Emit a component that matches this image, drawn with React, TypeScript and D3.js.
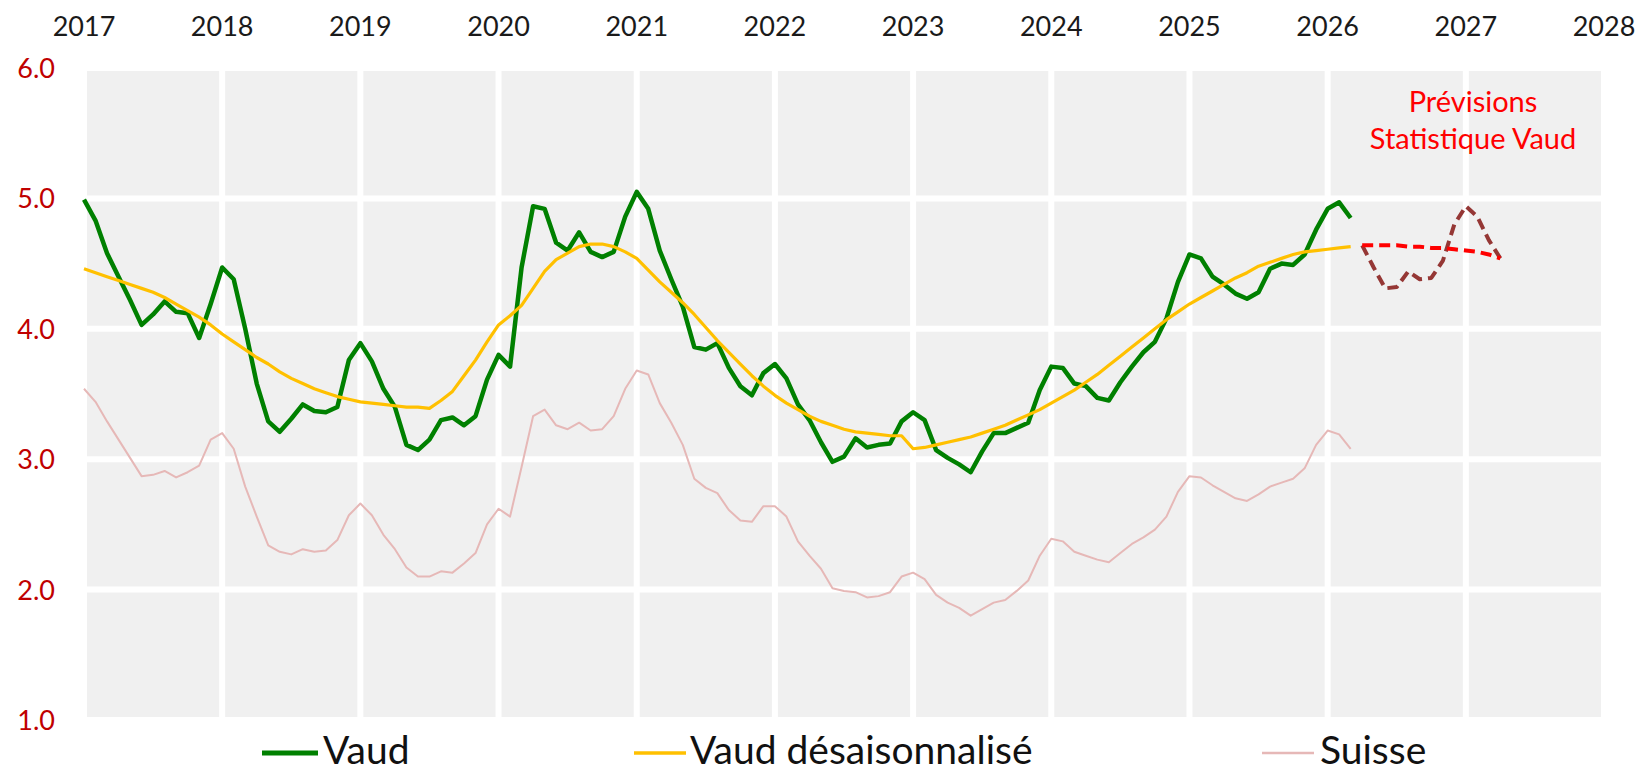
import React from "react";
import * as d3 from "d3";

// ---- Data (monthly, starting January 2017) ----
const years = [2017, 2018, 2019, 2020, 2021, 2022, 2023, 2024, 2025, 2026, 2027, 2028];
const yTicks = [1, 2, 3, 4, 5, 6];

const vaud = [
  4.99, 4.83, 4.58, 4.40, 4.22, 4.03, 4.11, 4.21, 4.13, 4.12, 3.93, 4.19,
  4.47, 4.38, 4.00, 3.58, 3.29, 3.21, 3.31, 3.42, 3.37, 3.36, 3.40, 3.76,
  3.89, 3.75, 3.54, 3.40, 3.11, 3.07, 3.15, 3.30, 3.32, 3.26, 3.33, 3.61,
  3.80, 3.71, 4.47, 4.94, 4.92, 4.66, 4.60, 4.74, 4.59, 4.55, 4.59, 4.86,
  5.05, 4.92, 4.60, 4.38, 4.17, 3.86, 3.84, 3.89, 3.70, 3.56, 3.49, 3.66,
  3.73, 3.62, 3.42, 3.30, 3.13, 2.98, 3.02, 3.16, 3.09, 3.11, 3.12, 3.29,
  3.36, 3.30, 3.07, 3.01, 2.96, 2.90, 3.06, 3.20, 3.20, 3.24, 3.28, 3.53,
  3.71, 3.70, 3.58, 3.56, 3.47, 3.45, 3.59, 3.71, 3.82, 3.90, 4.08, 4.36,
  4.57, 4.54, 4.40, 4.34, 4.27, 4.23, 4.28, 4.46, 4.50, 4.49, 4.57, 4.76,
  4.92, 4.97, 4.85,
];

const vaudSA = [
  4.46, 4.43, 4.40, 4.37, 4.34, 4.31, 4.28, 4.24, 4.19, 4.14, 4.09, 4.03,
  3.96, 3.90, 3.84, 3.78, 3.73, 3.67, 3.62, 3.58, 3.54, 3.51, 3.48, 3.46,
  3.44, 3.43, 3.42, 3.41, 3.40, 3.40, 3.39, 3.45, 3.52, 3.64, 3.76, 3.90,
  4.03, 4.10, 4.18, 4.31, 4.44, 4.53, 4.58, 4.63, 4.65, 4.65, 4.63, 4.59,
  4.54, 4.45, 4.36, 4.28, 4.20, 4.11, 4.01, 3.91, 3.82, 3.73, 3.64, 3.56,
  3.49, 3.43, 3.38, 3.33, 3.29, 3.26, 3.23, 3.21, 3.20, 3.19, 3.18, 3.18,
  3.08, 3.09, 3.11, 3.13, 3.15, 3.17, 3.20, 3.23, 3.26, 3.30, 3.34, 3.38,
  3.43, 3.48, 3.53, 3.59, 3.65, 3.72, 3.79, 3.86, 3.93, 4.00, 4.07, 4.13,
  4.19, 4.24, 4.29, 4.34, 4.39, 4.43, 4.48, 4.51, 4.54, 4.57, 4.59, 4.60,
  4.61, 4.62, 4.63,
];

const suisse = [
  3.54, 3.44, 3.29, 3.15, 3.01, 2.87, 2.88, 2.91, 2.86, 2.90, 2.95, 3.15,
  3.20, 3.08, 2.79, 2.56, 2.34, 2.29, 2.27, 2.31, 2.29, 2.30, 2.38, 2.57,
  2.66, 2.57, 2.42, 2.31, 2.17, 2.10, 2.10, 2.14, 2.13, 2.20, 2.28, 2.50,
  2.62, 2.56, 2.94, 3.33, 3.38, 3.26, 3.23, 3.28, 3.22, 3.23, 3.33, 3.54,
  3.68, 3.65, 3.43, 3.28, 3.11, 2.85, 2.78, 2.74, 2.61, 2.53, 2.52, 2.64,
  2.64, 2.56, 2.37, 2.26, 2.16, 2.01, 1.99, 1.98, 1.94, 1.95, 1.98, 2.10,
  2.13, 2.08, 1.96, 1.90, 1.86, 1.80, 1.85, 1.90, 1.92, 1.99, 2.07, 2.26,
  2.39, 2.37, 2.29, 2.26, 2.23, 2.21, 2.28, 2.35, 2.40, 2.46, 2.56, 2.75,
  2.87, 2.86, 2.80, 2.75, 2.70, 2.68, 2.73, 2.79, 2.82, 2.85, 2.93, 3.11,
  3.22, 3.19, 3.08,
];

// Forecasts, monthly from April 2026 (month index 111) to April 2027
const forecastStart = 111;
const forecastVaud = [4.64, 4.47, 4.31, 4.32, 4.44, 4.38, 4.39, 4.52, 4.80, 4.94, 4.86, 4.68, 4.54];
const forecastTrend = [4.64, 4.64, 4.64, 4.64, 4.63, 4.63, 4.62, 4.62, 4.61, 4.60, 4.59, 4.57, 4.54];

const legendLabels = ["Vaud", "Vaud désaisonnalisé", "Suisse"];
const annotationLines = ["Prévisions", "Statistique Vaud"];

const FONT = "Lato, 'Open Sans', sans-serif";

export default function App() {
  const W = 1642;
  const H = 773;
  const left = 84, right = 1604, top = 68, bottom = 720;

  const x = d3.scaleLinear().domain([2017, 2028]).range([left, right]);
  const y = d3.scaleLinear().domain([1, 6]).range([bottom, top]);
  const mx = (i: number) => x(2017 + i / 12);

  const mkLine = (arr: number[], offset = 0) =>
    d3
      .line<number>()
      .x((_, i) => mx(i + offset))
      .y((d) => y(d))(arr) || "";

  const legendItems = [
    { label: legendLabels[0], color: "#008000", w: 5, x1: 262, x2: 318, tx: 323 },
    { label: legendLabels[1], color: "#ffc000", w: 3.5, x1: 634, x2: 686, tx: 690 },
    { label: legendLabels[2], color: "#e6b8b7", w: 2.5, x1: 1262, x2: 1314, tx: 1320 },
  ];

  return (
    <svg
      width={W}
      height={H}
      style={{ position: "absolute", left: 0, top: 0, background: "#ffffff" }}
    >
      <rect x={left} y={top} width={right - left} height={bottom - top} fill="#f0f0f0" />
      {years.map((yr) => (
        <line key={"vg" + yr} x1={x(yr)} x2={x(yr)} y1={top - 3} y2={bottom + 3} stroke="#ffffff" strokeWidth={6} />
      ))}
      {yTicks.map((v) => (
        <line key={"hg" + v} x1={left - 3} x2={right + 3} y1={y(v)} y2={y(v)} stroke="#ffffff" strokeWidth={6} />
      ))}

      {years.map((yr) => (
        <text key={"yl" + yr} x={x(yr)} y={36} textAnchor="middle" fontFamily={FONT} fontSize={27} fill="#1a1a1a">
          {yr}
        </text>
      ))}
      {yTicks.map((v) => (
        <text key={"tl" + v} x={55} y={y(v) + 10} textAnchor="end" fontFamily={FONT} fontSize={27} fill="#c00000">
          {v.toFixed(1)}
        </text>
      ))}

      <path d={mkLine(suisse)} fill="none" stroke="#e6b8b7" strokeWidth={2} strokeLinejoin="round" />
      <path d={mkLine(vaud)} fill="none" stroke="#008000" strokeWidth={4.5} strokeLinejoin="round" />
      <path d={mkLine(vaudSA)} fill="none" stroke="#ffc000" strokeWidth={3.2} strokeLinejoin="round" />
      <path
        d={mkLine(forecastVaud, forecastStart)}
        fill="none"
        stroke="#953735"
        strokeWidth={4}
        strokeDasharray="11 6"
        strokeLinejoin="round"
      />
      <path
        d={mkLine(forecastTrend, forecastStart)}
        fill="none"
        stroke="#ff0000"
        strokeWidth={4}
        strokeDasharray="11 6"
        strokeLinejoin="round"
      />

      {annotationLines.map((t, i) => (
        <text key={"an" + i} x={1473} y={112 + i * 37} textAnchor="middle" fontFamily={FONT} fontSize={29} fill="#ff0000">
          {t}
        </text>
      ))}

      {legendItems.map((it) => (
        <g key={it.label}>
          <line x1={it.x1} x2={it.x2} y1={753} y2={753} stroke={it.color} strokeWidth={it.w} />
          <text x={it.tx} y={764} fontFamily={FONT} fontSize={39} fill="#111111">
            {it.label}
          </text>
        </g>
      ))}
    </svg>
  );
}
